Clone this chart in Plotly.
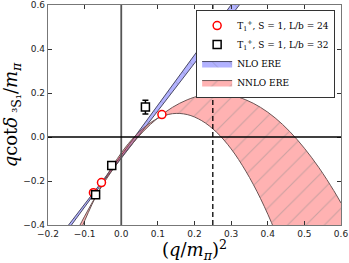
import plotly.graph_objects as go

# ---- data ----
# lattice points, L/b = 24 (red circles)
x24 = [-0.076, -0.054, 0.111]
y24 = [-0.253, -0.207, 0.102]
xe24 = [0.003, 0.003, 0.004]
ye24 = [0.006, 0.006, 0.012]
# lattice points, L/b = 32 (black squares)
x32 = [-0.070, -0.026, 0.066]
y32 = [-0.262, -0.130, 0.136]
xe32 = [0.003, 0.003, 0.004]
ye32 = [0.006, 0.006, 0.031]

# NLO ERE band edges
nlo_x = [-0.18, -0.05, 0.10, 0.20, 0.34]
nlo_hi = [-0.478, -0.197, 0.145, 0.372, 0.692]
nlo_lo = [-0.500, -0.205, 0.119, 0.336, 0.638]

# NNLO ERE band edges
nnlo_x = [-0.14, -0.10, -0.06, -0.02, 0.02, 0.06, 0.10, 0.14, 0.18, 0.22,
          0.26, 0.30, 0.34, 0.38, 0.42, 0.46, 0.50, 0.54, 0.58, 0.60]
nnlo_hi = [-0.491, -0.360, -0.243, -0.140, -0.051, 0.025, 0.087, 0.135, 0.169, 0.190,
           0.197, 0.190, 0.169, 0.135, 0.087, 0.025, -0.051, -0.140, -0.243, -0.300]
nnlo_lo = [-0.546, -0.381, -0.239, -0.122, -0.029, 0.040, 0.085, 0.106, 0.102, 0.074,
           0.022, -0.054, -0.155, -0.279, -0.428, -0.601, -0.798, -1.020, -1.265, -1.397]

threshold = 0.25
x_ticks = [-0.2, -0.1, 0.0, 0.1, 0.2, 0.3, 0.4, 0.5, 0.6]
y_ticks = [-0.4, -0.2, 0.0, 0.2, 0.4, 0.6]

lab24 = "T<sub>1</sub><sup>+</sup>, S = 1, L/b = 24"
lab32 = "T<sub>1</sub><sup>+</sup>, S = 1, L/b = 32"

fig = go.Figure()

# NLO band
fig.add_trace(go.Scatter(x=nlo_x, y=nlo_lo, mode="lines",
                         line=dict(color="#4a4a66", width=1), showlegend=False,
                         legendrank=10, hoverinfo="skip"))
fig.add_trace(go.Scatter(x=nlo_x, y=nlo_hi, mode="lines", fill="tonexty",
                         line=dict(color="#4a4a66", width=1),
                         fillcolor="rgba(0,0,255,0.3)",
                         fillpattern=dict(shape="\\", fgcolor="rgba(120,120,140,0.8)",
                                          bgcolor="rgba(0,0,255,0.3)", size=12,
                                          solidity=0.08),
                         name="NLO ERE", legendrank=3))
# NNLO band
fig.add_trace(go.Scatter(x=nnlo_x, y=nnlo_lo, mode="lines", line_shape="spline",
                         line=dict(color="#6a5555", width=1), showlegend=False,
                         legendrank=10, hoverinfo="skip"))
fig.add_trace(go.Scatter(x=nnlo_x, y=nnlo_hi, mode="lines", line_shape="spline",
                         fill="tonexty",
                         line=dict(color="#6a5555", width=1),
                         fillcolor="rgba(255,0,0,0.3)",
                         fillpattern=dict(shape="/", fgcolor="rgba(140,140,140,0.9)",
                                          bgcolor="rgba(255,0,0,0.3)", size=13,
                                          solidity=0.08),
                         name="NNLO ERE", legendrank=4))

# data points
fig.add_trace(go.Scatter(x=x24, y=y24, mode="markers", name=lab24, legendrank=1,
                         marker=dict(symbol="circle", size=8, color="white",
                                     line=dict(width=1.5, color="red")),
                         error_x=dict(type="data", array=xe24, color="red",
                                      thickness=1.5, width=3),
                         error_y=dict(type="data", array=ye24, color="red",
                                      thickness=1.5, width=3)))
fig.add_trace(go.Scatter(x=x32, y=y32, mode="markers", name=lab32, legendrank=2,
                         marker=dict(symbol="square", size=8, color="white",
                                     line=dict(width=1.5, color="black")),
                         error_x=dict(type="data", array=xe32, color="black",
                                      thickness=1.5, width=3),
                         error_y=dict(type="data", array=ye32, color="black",
                                      thickness=1.5, width=3)))

# reference lines
fig.add_vline(x=0, line=dict(color="#555555", width=1.8), layer="above")
fig.add_hline(y=0, line=dict(color="black", width=1.3), layer="above")
fig.add_vline(x=threshold, line=dict(color="black", width=1.3, dash="5px,3px"),
              layer="above")

axis_common = dict(showgrid=False, zeroline=False, ticks="inside", ticklen=4,
                   tickcolor="#333", mirror="allticks", showline=True,
                   linecolor="#777", linewidth=1.2, automargin=False,
                   tickfont=dict(family="DejaVu Sans", size=9, color="#222"))

fig.update_xaxes(range=[-0.2, 0.6], tickvals=x_ticks, tickformat=".1f",
                 title=dict(text="(<i>q</i>/<i>m<sub>π</sub></i>)<sup>2</sup>",
                            font=dict(family="DejaVu Serif", size=18, color="black"),
                            standoff=2),
                 **axis_common)
fig.update_yaxes(range=[-0.4, 0.6], tickvals=y_ticks, tickformat=".1f",
                 title=dict(text="<i>q</i>cot<i>δ</i><sub> ³S₁</sub>/<i>m<sub>π</sub></i>",
                            font=dict(family="DejaVu Serif", size=18, color="black"),
                            standoff=2),
                 **axis_common)

fig.update_layout(
    width=349, height=263,
    margin=dict(l=48, r=8, t=5, b=38),
    plot_bgcolor="white", paper_bgcolor="white",
    legend=dict(x=0.98, y=0.977, xanchor="right", yanchor="top",
                traceorder="normal",
                bgcolor="white", bordercolor="#333", borderwidth=1,
                font=dict(family="DejaVu Serif", size=9, color="black"),
                itemwidth=30, tracegroupgap=0),
)

fig.write_html("out.html", config={"displayModeBar": False},
               post_script="document.body.style.margin='0';document.body.style.padding='0';")
